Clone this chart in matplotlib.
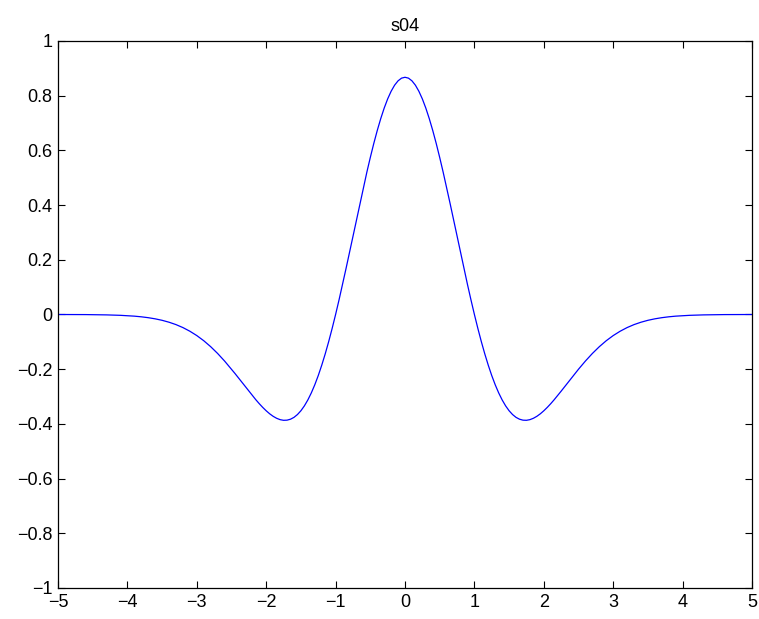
import numpy as np
import matplotlib.pyplot as plt

plt.rcParams['font.family'] = ['Liberation Sans', 'DejaVu Sans']

# s04 sampled on 0..5 (curve is symmetric about 0); finer steps where it bends
t_half = [0.0, 0.05, 0.1, 0.15, 0.2, 0.25, 0.3, 0.35, 0.4, 0.45,
          0.5, 0.55, 0.6, 0.65, 0.7, 0.75, 0.8, 0.85, 0.9, 0.95,
          1.0, 1.05, 1.1, 1.15, 1.2, 1.25, 1.3, 1.35, 1.4, 1.45,
          1.5, 1.55, 1.6, 1.65, 1.7, 1.75, 1.8, 1.85, 1.9, 1.95,
          2.0, 2.05, 2.1, 2.15, 2.2, 2.25, 2.3, 2.35, 2.4, 2.45,
          2.5, 2.6, 2.7, 2.8, 2.9,
          3.0, 3.1, 3.2, 3.3, 3.4, 3.5, 3.6, 3.7, 3.8, 3.9,
          4.0, 4.1, 4.2, 4.3, 4.4, 4.5, 4.6, 4.7, 4.8, 4.9, 5.0]
s04_half = [0.8673, 0.8641, 0.8543, 0.8383, 0.8161, 0.7881, 0.7545, 0.7158, 0.6725, 0.6251,
            0.5740, 0.5200, 0.4636, 0.4055, 0.3462, 0.2864, 0.2267, 0.1677, 0.1099, 0.0539,
            0.0, -0.0512, -0.0995, -0.1444, -0.1857, -0.2234, -0.2571, -0.2868, -0.3125, -0.3342,
            -0.3520, -0.3659, -0.3762, -0.3829, -0.3864, -0.3869, -0.3845, -0.3795, -0.3723, -0.3631,
            -0.3521, -0.3397, -0.3261, -0.3115, -0.2961, -0.2803, -0.2642, -0.2480, -0.2317, -0.2157,
            -0.2001, -0.1701, -0.1425, -0.1177, -0.0959,
            -0.0771, -0.0612, -0.0479, -0.0370, -0.0283, -0.0213, -0.0159, -0.0117, -0.0085, -0.0061,
            -0.0044, -0.0031, -0.0021, -0.0015, -0.0010, -0.0007, -0.0004, -0.0003, -0.0002, -0.0001, -0.0001]

x_ticks = [-5, -4, -3, -2, -1, 0, 1, 2, 3, 4, 5]
y_ticks = [-1, -0.8, -0.6, -0.4, -0.2, 0, 0.2, 0.4, 0.6, 0.8, 1]

t = np.concatenate([-np.array(t_half[:0:-1]), np.array(t_half)])
y = np.concatenate([np.array(s04_half[:0:-1]), np.array(s04_half)])

fig = plt.figure(figsize=(7.59, 6.19), dpi=100)
ax = fig.add_axes([0.0764, 0.0501, 0.9144, 0.8837])
ax.plot(t, y, color='#0000ff', lw=0.9, solid_joinstyle='round')

ax.set_xlim(-5, 5)
ax.set_ylim(-1, 1)
ax.set_xticks(x_ticks)
ax.set_yticks(y_ticks)
ax.set_xticklabels([str(v).replace('-', '\u2212') for v in x_ticks])
ax.set_yticklabels([('%g' % v).replace('-', '\u2212') for v in y_ticks])
ax.tick_params(direction='in', length=5, width=0.8, top=True, right=True,
               labelsize=13, pad=4)
for sp in ax.spines.values():
    sp.set_linewidth(0.9)
ax.set_title('s04', fontsize=13, pad=7)

fig.savefig('out.png', dpi=100)
